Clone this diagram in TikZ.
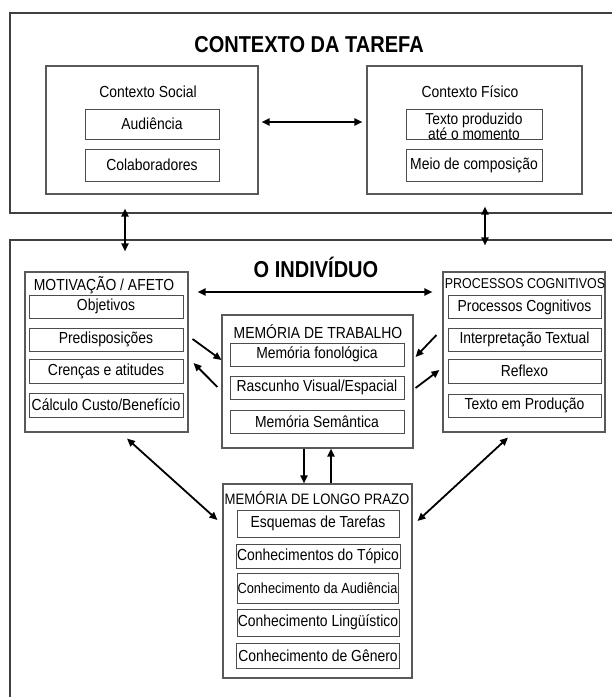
\documentclass[tikz,border=0pt]{standalone}
\usepackage{fontspec}
\setmainfont{Liberation Sans}[FakeStretch=0.87]
\usetikzlibrary{arrows.meta,calc}

\begin{document}
\begin{tikzpicture}[x=1pt,y=-1pt,
  outerbox/.style = {draw=black!75, line width=1.1pt, inner sep=0pt},
  groupbox/.style = {draw=black!65, line width=1.1pt, inner sep=0pt},
  itembox/.style = {draw=black!70, line width=1pt, inner sep=0pt
    , align=center, font=\fontsize{16}{18}\selectfont},
  grouplabel/.style = {inner sep=0pt, font=\fontsize{16}{18}\selectfont},
  bigtitle/.style = {inner sep=0pt, font=\fontsize{23}{27}\selectfont\bfseries},
  twoway/.style = {{Triangle[length=8pt,width=7pt]}-{Triangle[length=8pt,width=7pt]}, line width=1.8pt},
  oneway/.style = {-{Triangle[length=8pt,width=7pt]}, line width=1.8pt}]

 \useasboundingbox (0,0) rectangle (612,697);
 \clip (0,0) rectangle (612,697);

 % contexto da tarefa
 \node[outerbox, minimum width=610pt, minimum height=200pt] (tarefa) at (315,113) {};
 \node[bigtitle] (tarefatit) at (309,45) {CONTEXTO DA TAREFA};

 \node[groupbox, minimum width=212pt, minimum height=128pt] (social) at (152,130) {};
 \node[grouplabel] (socialcap) at (148,92) {Contexto Social};
 \node[itembox, minimum width=134pt, minimum height=30pt] (audiencia) at (152,124) {Audiência};
 \node[itembox, minimum width=134pt, minimum height=32pt] (colab) at (152,165) {Colaboradores};

 \node[groupbox, minimum width=215pt, minimum height=128pt] (fisico) at (474.5,130) {};
 \node[grouplabel] (fisicocap) at (470,92) {Contexto Físico};
 \node[itembox, minimum width=136pt, minimum height=30pt] (produzido) at (474,124) {};
 \node[inner sep=0pt, align=center, font=\fontsize{15.8}{15.5}\selectfont]
     (produzidotxt) at (474,126.5) {Texto produzido\\até o momento};
 \node[itembox, minimum width=136pt, minimum height=32pt] (meio) at (474,165) {Meio de composição};

 % o individuo
 \node[outerbox, minimum width=610pt, minimum height=470pt] (individuo) at (315,475) {};
 \node[bigtitle] (individuotit) at (316,267) {O INDIVÍDUO};

 \node[groupbox, minimum width=163pt, minimum height=160pt] (motiv) at (106.5,352) {};
 \node[grouplabel] (motivcap) at (104,285) {MOTIVAÇÃO / AFETO};
 \node[itembox, minimum width=154pt, minimum height=23pt] (objetivos) at (106,306.5) {Objetivos};
 \node[itembox, minimum width=154pt, minimum height=23pt] (predisp) at (106,339.5) {Predisposições};
 \node[itembox, minimum width=154pt, minimum height=24pt] (crencas) at (106,371) {Crenças e atitudes};
 \node[itembox, minimum width=154pt, minimum height=24pt] (calculo) at (106,405) {Cálculo Custo/Benefício};

 \node[groupbox, minimum width=162pt, minimum height=160pt] (cognit) at (524,352) {};
 \node[grouplabel, font=\fontsize{14.3}{16}\selectfont] (cognitcap) at (525,284) {PROCESSOS COGNITIVOS};
 \node[itembox, minimum width=153pt, minimum height=23pt] (proccog) at (524.5,307) {Processos Cognitivos};
 \node[itembox, minimum width=153pt, minimum height=23pt] (interp) at (524.5,339.5) {Interpretação Textual};
 \node[itembox, minimum width=153pt, minimum height=24pt] (reflexo) at (524.5,371) {Reflexo};
 \node[itembox, minimum width=153pt, minimum height=23pt] (producao) at (524.5,405.5) {Texto em Produção};

 \node[groupbox, minimum width=191pt, minimum height=133pt] (trabalho) at (317.5,381.5) {};
 \node[grouplabel] (trabalhocap) at (318,332) {MEMÓRIA DE TRABALHO};
 \node[itembox, minimum width=174pt, minimum height=23pt] (fonologica) at (317,354.5) {Memória fonológica};
 \node[itembox, minimum width=174pt, minimum height=23pt] (rascunho) at (317,387.5) {Rascunho Visual/Espacial};
 \node[itembox, minimum width=174pt, minimum height=23pt] (semantica) at (317,421.5) {Memória Semântica};

 \node[groupbox, minimum width=189pt, minimum height=194pt] (longo) at (317.5,581) {};
 \node[grouplabel, font=\fontsize{15.1}{17}\selectfont] (longocap) at (317,498) {MEMÓRIA DE LONGO PRAZO};
 \begin{scope}[every node/.append style={font=\fontsize{15.2}{17}\selectfont}]
  \node[itembox, minimum width=162pt, minimum height=27pt] (esquemas) at (318,523.5) {Esquemas de Tarefas};
  \node[itembox, minimum width=164pt, minimum height=24pt] (topico) at (318,556) {Conhecimentos do Tópico};
  \node[itembox, minimum width=161pt, minimum height=30pt, font=\fontsize{14.7}{17}\selectfont]
      (audconh) at (317.5,588) {Conhecimento da Audiência};
  \node[itembox, minimum width=162pt, minimum height=27pt] (linguist) at (318,622.5) {Conhecimento Lingüístico};
  \node[itembox, minimum width=163pt, minimum height=25pt] (genero) at (318,655.5) {Conhecimento de Gênero};
 \end{scope}

 % conectores
 \begin{scope}[line cap=butt]
  \draw[twoway] ($(social.east)+(3,-8)$) -- ($(fisico.west)+(-4,-8)$);
  \draw[twoway] ($(social.south |- tarefa.south)+(-27,-5)$) -- ($(social.south |- individuo.north)+(-27,12)$);
  \draw[twoway] ($(fisico.south |- tarefa.south)+(10.5,-7)$) -- ($(fisico.south |- individuo.north)+(10.5,6)$);
  \draw[twoway] ($(motiv.east)+(9,-60)$) -- ($(cognit.west)+(-10,-60)$);
  \draw[oneway] ($(motiv.east)+(4,-13)$) -- ($(trabalho.west)+(0,-21.5)$);
  \draw[oneway] ($(trabalho.west)+(-4,5.5)$) -- ($(motiv.east)+(5,11)$);
  \draw[oneway] ($(cognit.west)+(-6,-17)$) -- ($(trabalho.east)+(2,-24.5)$);
  \draw[oneway] ($(trabalho.east)+(2,6.5)$) -- ($(cognit.west)+(-3,18)$);
  \draw[oneway] ($(trabalho.south)+(-13.5,0)$) -- ($(longo.north)+(-13.5,0)$);
  \draw[oneway] ($(longo.north)+(13.5,0)$) -- ($(trabalho.south)+(13.5,0)$);
  \draw[twoway] ($(motiv.south)+(20.5,6)$) -- ($(longo.west)+(-5,-61)$);
  \draw[twoway] ($(cognit.south)+(-16,5)$) -- ($(longo.east)+(5,-60)$);
 \end{scope}
\end{tikzpicture}
\end{document}
